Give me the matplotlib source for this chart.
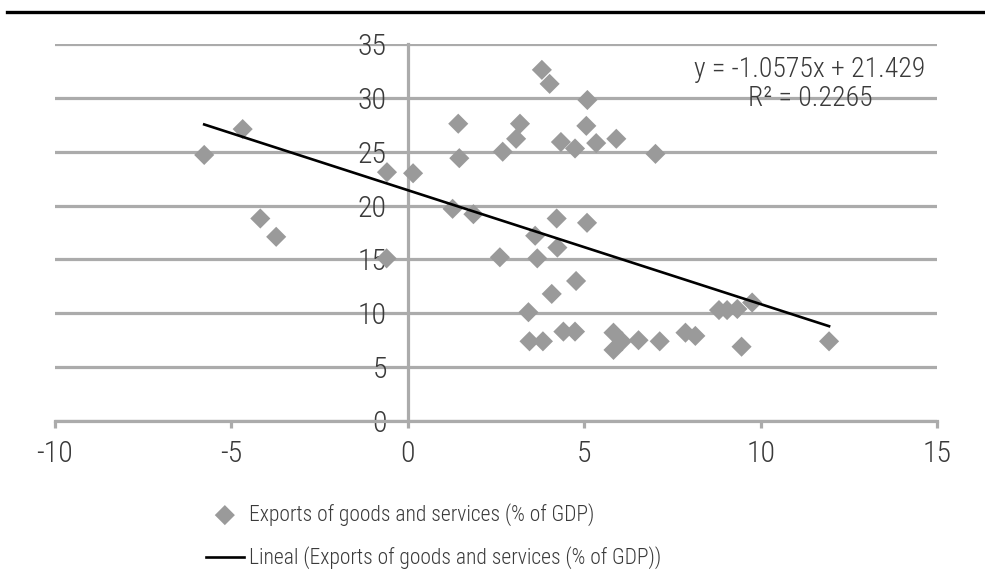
import matplotlib
matplotlib.use("Agg")
import matplotlib.pyplot as plt
from matplotlib import font_manager
from matplotlib.lines import Line2D
import numpy as np

# growth (x) vs exports of goods and services, % of GDP (y)
growth = [-5.77, -4.68, -4.18, -3.73, -0.59, -0.60, 0.15, 1.43, 1.46, 1.27,
          1.86, 3.80, 4.02, 5.09, 3.18, 3.07, 2.69, 4.34, 4.74, 5.06,
          5.34, 5.91, 7.02, 4.22, 5.08, 3.61, 4.24, 2.61, 3.67, 4.77,
          4.08, 3.42, 3.45, 3.83, 4.41, 4.74, 5.83, 6.07, 5.83, 6.54,
          7.14, 7.87, 8.15, 8.82, 9.05, 9.34, 9.76, 9.46, 11.94]
exports = [24.7, 27.1, 18.8, 17.1, 23.1, 15.1, 23.0, 27.6, 24.4, 19.7,
           19.2, 32.6, 31.3, 29.8, 27.6, 26.2, 25.0, 25.9, 25.3, 27.4,
           25.8, 26.2, 24.8, 18.8, 18.4, 17.2, 16.1, 15.2, 15.1, 13.0,
           11.8, 10.1, 7.4, 7.4, 8.3, 8.3, 8.2, 7.4, 6.6, 7.5,
           7.4, 8.2, 7.9, 10.3, 10.3, 10.4, 11.0, 6.9, 7.4]

slope = -1.0575
intercept = 21.429
r2 = 0.2265

series_label = "Exports of goods and services (% of GDP)"
trend_label = "Lineal (Exports of goods and services (% of GDP))"

x_ticks = [-10, -5, 0, 5, 10, 15]
y_ticks = [0, 5, 10, 15, 20, 25, 30, 35]

# pick a narrow face if one is installed
available = {(f.name, f.stretch) for f in font_manager.fontManager.ttflist}
names = {n for n, _ in available}
family, stretch = "DejaVu Sans", "normal"
for cand in ["Roboto Condensed", "Liberation Sans Narrow", "Open Sans Condensed"]:
    if cand in names:
        family = cand
        break
else:
    if ("DejaVu Sans", "condensed") in available or ("DejaVu Sans", 300) in available:
        stretch = "condensed"
plt.rcParams["font.family"] = [family, "DejaVu Sans"]
plt.rcParams["font.stretch"] = stretch
plt.rcParams["font.weight"] = "light"
plt.rcParams["axes.unicode_minus"] = False

text_color = "#3a3a3a"
grid_color = "#ababab"
marker_color = "#9a9a9a"

fig = plt.figure(figsize=(9.85, 5.82), dpi=100)
ax = fig.add_axes((0.0558, 0.2766, 0.8955, 0.6478))

ax.scatter(growth, exports, marker="D", s=105, color=marker_color,
           edgecolors="none", zorder=3, label=series_label)

xs = np.array([min(growth), max(growth)])
ax.plot(xs, slope * xs + intercept, color="black", lw=1.9, zorder=4,
        label=trend_label)

ax.set_xlim(-10, 15)
ax.set_ylim(0, 35)
ax.set_xticks(x_ticks)
ax.set_yticks(y_ticks)
ax.yaxis.grid(True, color=grid_color, lw=2.3)
ax.set_axisbelow(True)

for side in ["top", "right"]:
    ax.spines[side].set_visible(False)
ax.spines["left"].set_position(("data", 0))
ax.spines["left"].set_color(grid_color)
ax.spines["left"].set_linewidth(2.3)
ax.spines["bottom"].set_color(grid_color)
ax.spines["bottom"].set_linewidth(2.3)

ax.tick_params(axis="x", length=5, width=2.3, color=grid_color, pad=9,
               labelsize=21.5, labelcolor=text_color)
ax.tick_params(axis="y", length=0, pad=15, labelsize=21.5,
               labelcolor=text_color)

# trendline equation, placed in figure pixels like the chart tool does
fig.text(810 / 985, 1 - 84 / 582,
         f"y = {slope}x + {intercept}\nR\u00b2 = {r2}",
         ha="center", va="center", fontsize=20, color=text_color,
         linespacing=1.05)

handles, labels = ax.get_legend_handles_labels()
fig.legend(handles, labels, loc="upper left",
           bbox_to_anchor=(206 / 985, 1 - 503 / 582), frameon=False,
           fontsize=15.5, labelcolor=text_color, handlelength=1.75,
           handletextpad=0.25, labelspacing=0.95, borderaxespad=0,
           borderpad=0)

# rule across the top of the figure
fig.add_artist(Line2D([7 / 985, 1.0], [1 - 12 / 582, 1 - 12 / 582],
                      color="black", lw=2.4, transform=fig.transFigure))

fig.savefig("out.png", dpi=100)
